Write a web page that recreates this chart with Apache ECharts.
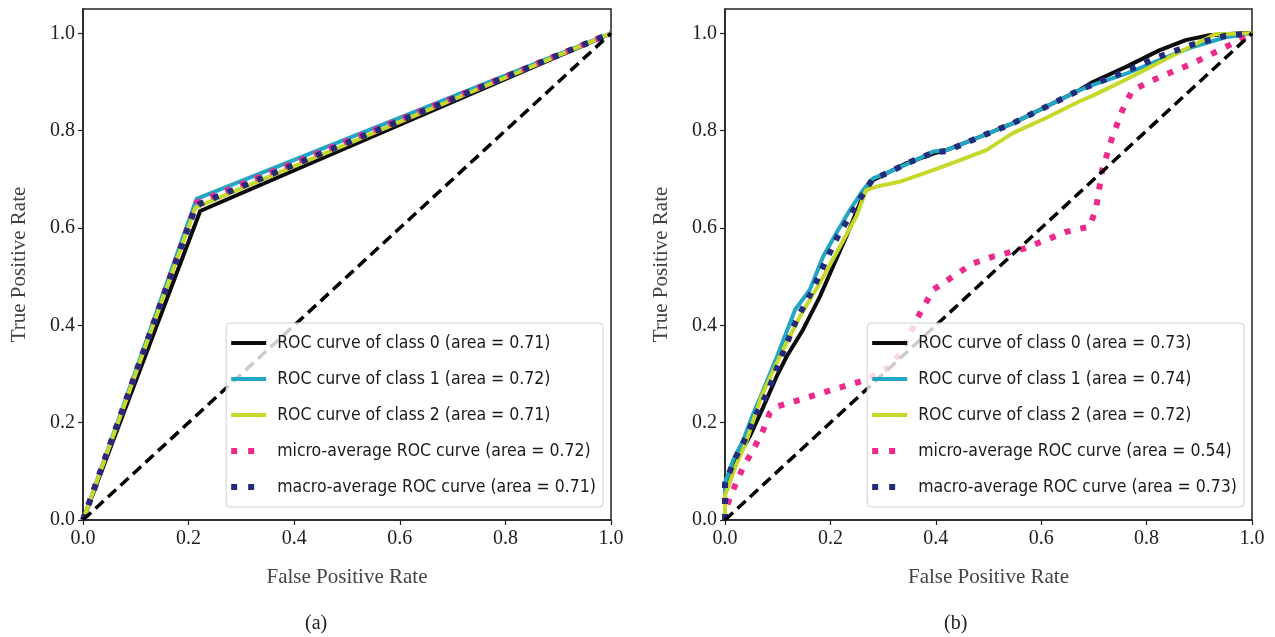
<!DOCTYPE html>
<html>
<head>
<meta charset="utf-8">
<script src="https://cdn.jsdelivr.net/npm/echarts@6/dist/echarts.min.js"></script>
<style>
html, body { margin: 0; padding: 0; background: #fff; }
#main { width: 1275px; height: 637px; }
</style>
</head>
<body>
<div id="main"></div>
<script>
// tick values shared by both panels
var axisTicks = [0, 0.2, 0.4, 0.6, 0.8, 1.0];

// (a) - single threshold, so each curve is a knee
var aNames = ['ROC curve of class 0 (area = 0.71)', 'ROC curve of class 1 (area = 0.72)', 'ROC curve of class 2 (area = 0.71)',
	'micro-average ROC curve (area = 0.72)', 'macro-average ROC curve (area = 0.71)'];
var aClass0 = [[0, 0], [0.222, 0.635], [1, 1]];
var aClass1 = [[0, 0], [0.215, 0.66], [1, 1]];
var aClass2 = [[0, 0], [0.213, 0.642], [1, 1]];
var aMicro = [[0, 0], [0.215, 0.652], [1, 1]];
var aMacro = [[0, 0], [0.213, 0.642], [0.222, 0.65], [1, 1]];

// (b)
var bNames = ['ROC curve of class 0 (area = 0.73)', 'ROC curve of class 1 (area = 0.74)', 'ROC curve of class 2 (area = 0.72)',
	'micro-average ROC curve (area = 0.54)', 'macro-average ROC curve (area = 0.73)'];
var bClass0 = [[0, 0], [0, 0.07], [0.022, 0.124], [0.047, 0.172], [0.073, 0.233], [0.098, 0.295], [0.117, 0.336], [0.148, 0.391],
	[0.18, 0.459], [0.205, 0.521], [0.23, 0.582], [0.256, 0.651], [0.275, 0.695], [0.306, 0.712], [0.344, 0.733], [0.395, 0.753],
	[0.42, 0.76], [0.483, 0.787], [0.546, 0.815], [0.609, 0.849], [0.672, 0.883], [0.698, 0.9], [0.761, 0.931], [0.824, 0.965],
	[0.874, 0.986], [0.919, 0.996], [0.98, 1.0], [1, 1]];
var bClass1 = [[0, 0], [0, 0.076], [0.016, 0.124], [0.035, 0.165], [0.054, 0.22], [0.073, 0.268], [0.098, 0.334], [0.133, 0.432],
	[0.161, 0.473], [0.186, 0.541], [0.211, 0.589], [0.237, 0.637], [0.262, 0.678], [0.281, 0.702], [0.313, 0.716], [0.357, 0.737],
	[0.395, 0.757], [0.42, 0.76], [0.483, 0.787], [0.546, 0.815], [0.609, 0.849], [0.672, 0.883], [0.698, 0.894], [0.761, 0.917],
	[0.824, 0.945], [0.887, 0.972], [0.95, 0.992], [1, 1]];
var bClass2 = [[0, 0], [0, 0.05], [0.02, 0.11], [0.04, 0.16], [0.069, 0.254], [0.104, 0.336], [0.142, 0.418], [0.18, 0.487],
	[0.218, 0.562], [0.249, 0.623], [0.268, 0.678], [0.287, 0.685], [0.331, 0.695], [0.395, 0.719], [0.445, 0.739], [0.496, 0.76],
	[0.546, 0.795], [0.609, 0.826], [0.672, 0.86], [0.698, 0.872], [0.761, 0.905], [0.824, 0.94], [0.887, 0.975], [0.93, 0.998], [1, 1]];
var bMicro = [[0, 0], [0.003, 0.028], [0.016, 0.063], [0.035, 0.11], [0.054, 0.145], [0.073, 0.186], [0.085, 0.22], [0.098, 0.233],
	[0.142, 0.247], [0.205, 0.268], [0.268, 0.288], [0.306, 0.31], [0.335, 0.345], [0.363, 0.411], [0.395, 0.473], [0.432, 0.5],
	[0.47, 0.527], [0.508, 0.541], [0.569, 0.558], [0.608, 0.575], [0.647, 0.592], [0.692, 0.603], [0.704, 0.64], [0.716, 0.72],
	[0.735, 0.787], [0.754, 0.842], [0.773, 0.883], [0.824, 0.91], [0.887, 0.938], [0.937, 0.965], [0.969, 0.982], [1, 1]];
var bMacro = [[0, 0], [0, 0.075], [0.018, 0.124], [0.04, 0.17], [0.06, 0.22], [0.08, 0.26], [0.105, 0.33], [0.135, 0.41],
	[0.165, 0.47], [0.19, 0.53], [0.215, 0.585], [0.24, 0.63], [0.262, 0.67], [0.28, 0.7], [0.31, 0.714], [0.35, 0.735],
	[0.395, 0.755], [0.42, 0.758], [0.483, 0.787], [0.546, 0.815], [0.609, 0.849], [0.672, 0.883], [0.698, 0.895], [0.761, 0.922],
	[0.824, 0.952], [0.887, 0.977], [0.95, 0.995], [1, 1]];
var chance = [[0, 0], [1, 1]];

var colors = ['#0b0b0b', '#22a6c3', '#c6d92a', '#ec2a8c', '#232b7b'];
var serif = "'Liberation Serif', 'DejaVu Serif', serif";
var legendFont = "'DejaVu Sans Condensed', 'DejaVu Sans', sans-serif";

var lineIcon = 'path://M0,0M35,12M0,4h35v4h-35z';
var dotIcon = 'path://M0,0M35,12M0,3h6v6h-6zM17,3h6v6h-6z';

function curve(name, data, k, idx){
	var dotted = k >= 3;
	return {
		name: name,
		type: 'line',
		xAxisIndex: idx,
		yAxisIndex: idx,
		data: data,
		symbol: 'none',
		silent: true,
		animation: false,
		color: colors[k],
		lineStyle: {
			color: colors[k],
			width: dotted ? 6 : 4,
			type: dotted ? [6, 10] : 'solid',
			cap: 'butt',
			join: 'round'
		}
	};
}

function panelSeries(names, list, idx){
	var s = [];
	for(var i=0; i<list.length; i++){
		s.push(curve(names[i], list[i], i, idx));
	}
	s.push({
		name: 'chance',
		type: 'line',
		xAxisIndex: idx,
		yAxisIndex: idx,
		data: chance,
		symbol: 'none',
		silent: true,
		animation: false,
		lineStyle: { color: '#000', width: 3.5, type: [11, 6] }
	});
	return s;
}

function xAx(idx){
	return {
		gridIndex: idx, type: 'value', min: 0, max: 1, interval: 0.2,
		name: 'False Positive Rate', nameLocation: 'middle', nameGap: 47,
		nameTextStyle: { fontFamily: serif, fontSize: 21, color: '#444' },
		axisLine: { lineStyle: { color: '#222', width: 1.5 } },
		axisTick: { length: 5, lineStyle: { color: '#222', width: 1.2 } },
		axisLabel: { fontFamily: serif, fontSize: 20, color: '#222', margin: 9,
			formatter: function(v){ return v.toFixed(1); } },
		splitLine: { show: false }
	};
}

function yAx(idx){
	return {
		gridIndex: idx, type: 'value', min: 0, max: 1.05, interval: 0.2,
		name: 'True Positive Rate', nameLocation: 'middle', nameGap: 53,
		nameTextStyle: { fontFamily: serif, fontSize: 21, color: '#444' },
		axisLine: { lineStyle: { color: '#222', width: 1.5 } },
		axisTick: { length: 5, customValues: axisTicks, lineStyle: { color: '#222', width: 1.2 } },
		axisLabel: { fontFamily: serif, fontSize: 20, color: '#222', margin: 8, customValues: axisTicks,
			formatter: function(v){ return v.toFixed(1); } },
		splitLine: { show: false }
	};
}

function legendFor(names, right){
	var data = [];
	for(var i=0; i<names.length; i++){
		data.push({ name: names[i], icon: i >= 3 ? dotIcon : lineIcon });
	}
	return {
		data: data,
		orient: 'vertical',
		right: right,
		bottom: 130,
		itemWidth: 35,
		itemHeight: 12,
		itemGap: 14,
		padding: [9, 7, 9, 5],
		backgroundColor: 'rgba(255,255,255,0.8)',
		borderColor: '#d0d0d0',
		borderWidth: 1,
		borderRadius: 4,
		selectedMode: false,
		itemStyle: { borderWidth: 0 },
		lineStyle: { width: 0 },
		textStyle: { fontFamily: legendFont, fontSize: 17.5, lineHeight: 22, color: '#1a1a1a', padding: [0, 0, 0, 6] }
	};
}

var option = {
	backgroundColor: '#fff',
	animation: false,
	title: [
		{ text: '(a)', left: 300, top: 609, textStyle: { fontFamily: serif, fontSize: 20, fontWeight: 'normal', color: '#222' } },
		{ text: '(b)', left: 939, top: 609, textStyle: { fontFamily: serif, fontSize: 20, fontWeight: 'normal', color: '#222' } }
	],
	grid: [
		{ left: 83, top: 9, width: 528, height: 511, show: true, borderColor: '#222', borderWidth: 1.5, backgroundColor: '#fff' },
		{ left: 725, top: 9, width: 527, height: 511, show: true, borderColor: '#222', borderWidth: 1.5, backgroundColor: '#fff' }
	],
	xAxis: [xAx(0), xAx(1)],
	yAxis: [yAx(0), yAx(1)],
	legend: [legendFor(aNames, 672), legendFor(bNames, 31)],
	series: panelSeries(aNames, [aClass0, aClass1, aClass2, aMicro, aMacro], 0)
		.concat(panelSeries(bNames, [bClass0, bClass1, bClass2, bMicro, bMacro], 1))
};

var myChart = echarts.init(document.getElementById('main'));
myChart.setOption(option);
</script>
</body>
</html>
